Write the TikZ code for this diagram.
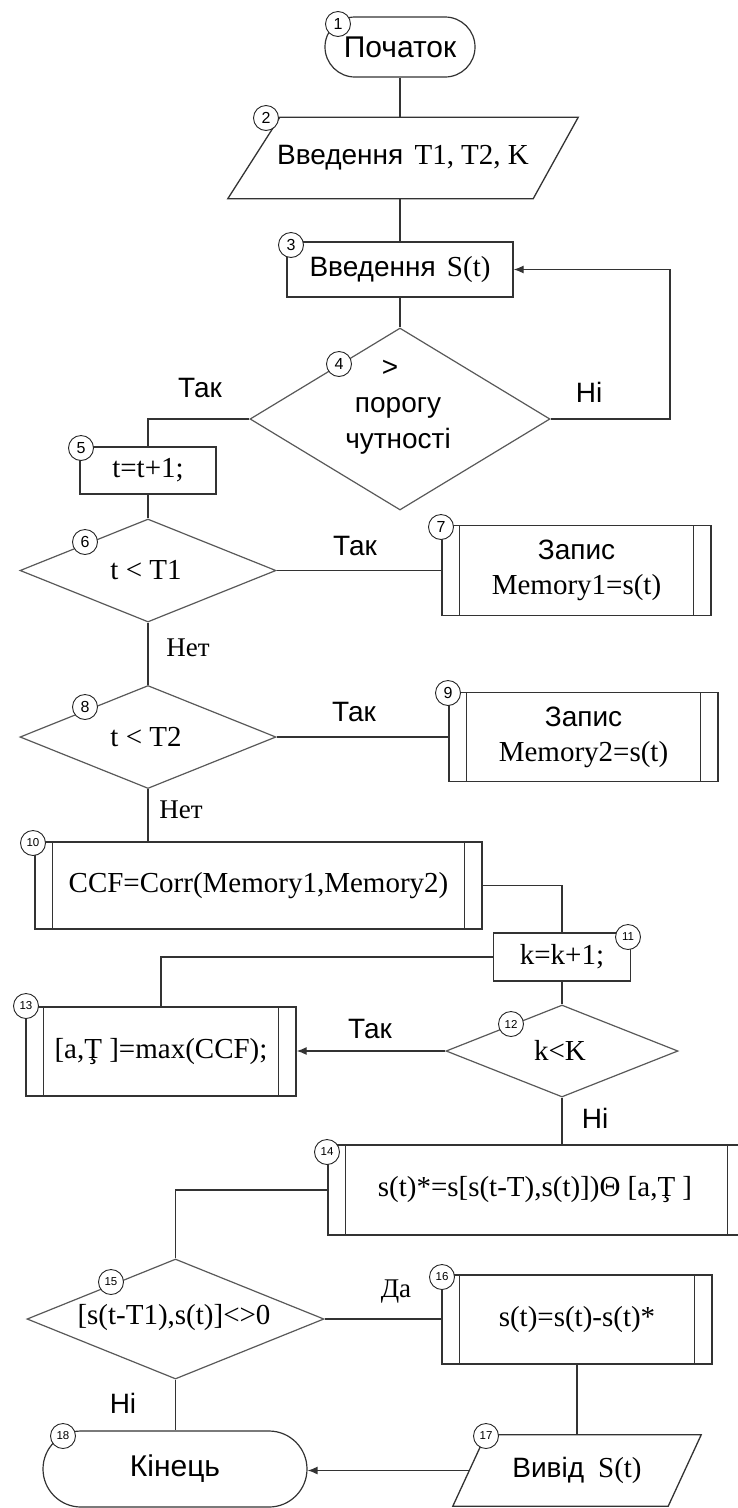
\documentclass[tikz,border=0pt]{standalone}
\usepackage{fontspec}
\setmainfont{Liberation Serif}
\newfontfamily\arialf{Liberation Sans}
\usetikzlibrary{shapes.geometric,shapes.misc,arrows.meta}
\newcommand\UAf{\arialf\fontsize{28}{36}\selectfont}
\newcommand\UTf{\arialf\fontsize{30}{36}\selectfont}
\newcommand\TMf{\rmfamily\fontsize{29}{36}\selectfont}
\newcommand\LBf{\rmfamily\fontsize{27}{32}\selectfont}
\begin{document}
\begin{tikzpicture}[x=1pt,y=-1pt,
  ln/.style={draw=black!80, line width=1.3pt},
  arr/.style={-{Latex[length=10pt,width=8pt]}},
  box/.style={rectangle, draw=black!80, line width=1.3pt, inner sep=0pt, align=center, font=\TMf},
  pp/.style={box, path picture={\draw[black!80,line width=1.3pt]
      ([xshift=17.5pt]path picture bounding box.north west) -- ([xshift=17.5pt]path picture bounding box.south west)
      ([xshift=-17.5pt]path picture bounding box.north east) -- ([xshift=-17.5pt]path picture bounding box.south east);}},
  dia/.style={diamond, draw=black!65, line width=1.2pt, inner sep=0pt},
  term/.style={rounded rectangle, draw=black!80, line width=1.2pt, inner sep=0pt, font=\UTf},
  io/.style={rectangle, draw=none, inner sep=0pt, font=\TMf},
  num/.style={circle, draw=black!85, line width=0.9pt, fill=white, minimum size=25pt, inner sep=0pt, font=\arialf\fontsize{16}{16}\selectfont},
  numb/.style={num, font=\arialf\fontsize{11.5}{12}\selectfont},
  lab/.style={inner sep=0pt, font=\UAf},
  labt/.style={inner sep=0pt, font=\LBf}
]
\useasboundingbox (0,0) rectangle (738,1508);
\fill[white] (0,0) rectangle (738,1508);

% shapes
\node[term, minimum width=150pt, minimum height=60pt] (n1) at (400,47) {Початок};
\node[io, minimum width=350pt, minimum height=81pt] (n2) at (403,158) {{\UAf Введення}\hspace{4pt} T1, T2, K};
\draw[ln] (n2.south west) -- ([xshift=52pt]n2.north west) -- (n2.north east) -- ([xshift=-45pt]n2.south east) -- cycle;
\node[box, minimum width=226pt, minimum height=55pt] (n3) at (400,269.5) {{\UAf Введення}\hspace{4pt} S(t)};
\node[dia, minimum width=300pt, minimum height=182pt] (n4) at (400,419) {};
\node[inner sep=0pt, font=\UAf, align=center] (t4) at (398,407) {\hspace*{-16pt}>\\порогу\\чутності};
\node[box, minimum width=136pt, minimum height=47pt] (n5) at (148,470.5) {t=t+1;};
\node[dia, minimum width=256pt, minimum height=103pt] (n6) at (148,570.5) {};
\node[inner sep=0pt, font=\TMf] (t6) at (146,570.5) {t < T1};
\node[pp, minimum width=269pt, minimum height=90pt] (n7) at (576.5,570.5) {{\UAf Запис}\\[-1pt]Memory1=s(t)};
\node[dia, minimum width=256pt, minimum height=103pt] (n8) at (148,737) {};
\node[inner sep=0pt, font=\TMf] (t8) at (146,737) {t < T2};
\node[pp, minimum width=269pt, minimum height=89pt] (n9) at (583.5,737) {{\UAf Запис}\\[-1pt]Memory2=s(t)};
\node[pp, minimum width=447pt, minimum height=87pt] (n10) at (258.5,885.5) {CCF=Corr(Memory1,Memory2)};
\node[box, minimum width=137pt, minimum height=48pt] (n11) at (562,957) {k=k+1;};
\node[dia, minimum width=232pt, minimum height=92pt] (n12) at (562,1051) {};
\node[inner sep=0pt, font=\TMf] (t12) at (560,1050) {k<K};
\node[pp, minimum width=270pt, minimum height=89pt] (n13) at (161,1051.5) {[a,Ţ ]=max(CCF);};
\node[pp, minimum width=417pt, minimum height=90pt] (n14) at (536.5,1190) {};
\node[inner sep=0pt, font=\TMf] (t14) at (535,1190) {s(t)*=s[s(t-T),s(t)])Θ [a,Ţ ]};
\node[dia, minimum width=297pt, minimum height=120pt] (n15) at (175.5,1319) {};
\node[inner sep=0pt, font=\TMf] (t15) at (174,1318) {[s(t-T1),s(t)]<>0};
\node[pp, minimum width=270pt, minimum height=89pt] (n16) at (577,1319.5) {s(t)=s(t)-s(t)*};
\node[io, minimum width=248pt, minimum height=71pt] (n17) at (577,1470.5) {{\UAf Вивід}\hspace{14pt}S(t)};
\draw[ln] (n17.south west) -- ([xshift=33pt]n17.north west) -- (n17.north east) -- ([xshift=-33pt]n17.south east) -- cycle;
\node[term, minimum width=264pt, minimum height=76pt] (n18) at (175,1469) {Кінець};

% helper coordinates
\coordinate (r4) at (670,419);
\coordinate (s17) at (469.5,1470.5);

% connectors
\draw[ln] (n1.south) -- (n1.south |- n2.north);
\draw[ln] (n3.north |- n2.south) -- (n3.north);
\draw[ln] (n3.south) -- (n4.north);
\draw[ln,arr] (n4.east) -- (r4) |- (n3.east);
\draw[ln] (n4.west) -| (n5.north);
\draw[ln] (n5.south) -- (n6.north);
\draw[ln] (n6.east) -- (n6.east -| n7.west);
\draw[ln] (n6.south) -- (n8.north);
\draw[ln] (n8.east) -- (n8.east -| n9.west);
\draw[ln] (n8.south) -- (n8.south |- n10.north);
\draw[ln] (n10.east) -| (n11.north);
\draw[ln] (n11.west) -| (n13.north);
\draw[ln] (n11.south) -- (n12.north);
\draw[ln,arr] (n12.west) -- (n12.west -| n13.east);
\draw[ln] (n12.south) -- (n12.south |- n14.north);
\draw[ln] (n14.west) -| (n15.north);
\draw[ln] (n15.east) -- (n15.east -| n16.west);
\draw[ln] (n16.south) -- (n16.south |- n17.north);
\draw[ln,arr] (s17) -- (s17 -| n18.east);
\draw[ln] (n15.south) -- (n15.south |- n18.north);

% branch labels
\node[lab] (l1) at (200,388) {Так};
\node[lab] (l2) at (589,392) {Ні};
\node[lab] (l3) at (355,546) {Так};
\node[labt] (l4) at (188,648) {Нет};
\node[lab] (l5) at (354,712) {Так};
\node[labt] (l6) at (181,810) {Нет};
\node[lab] (l7) at (370,1029) {Так};
\node[lab] (l8) at (595,1118) {Ні};
\node[labt] (l9) at (396,1292) {Да};
\node[lab] (l10) at (123,1403) {Ні};

% numbers
\node[num] (c1) at (338,24) {1};
\node[num] (c2) at (266,118) {2};
\node[num] (c3) at (291,245) {3};
\node[num] (c4) at (339,364) {4};
\node[num] (c5) at (81,448) {5};
\node[num] (c6) at (85,542) {6};
\node[num] (c7) at (441,527) {7};
\node[num] (c8) at (85,707) {8};
\node[num] (c9) at (448,693) {9};
\node[numb] (c10) at (33,843) {10};
\node[numb] (c11) at (628,937) {11};
\node[numb] (c12) at (511,1024) {12};
\node[numb] (c13) at (26,1006) {13};
\node[numb] (c14) at (327,1152) {14};
\node[numb] (c15) at (111,1282) {15};
\node[numb] (c16) at (442,1277) {16};
\node[numb] (c17) at (486,1436) {17};
\node[numb] (c18) at (63,1436) {18};
\end{tikzpicture}
\end{document}
